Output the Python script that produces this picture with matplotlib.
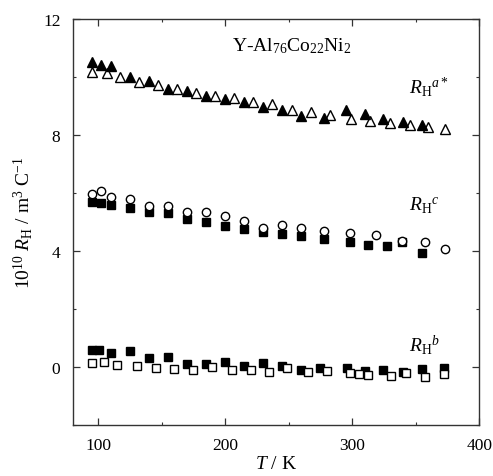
import numpy as np
import matplotlib
matplotlib.use("Agg")
import matplotlib.pyplot as plt
from matplotlib.ticker import MultipleLocator

plt.rcParams['font.family'] = 'Liberation Serif'
plt.rcParams['mathtext.fontset'] = 'custom'
plt.rcParams['mathtext.rm'] = 'Liberation Serif'
plt.rcParams['mathtext.it'] = 'Liberation Serif:italic'

# R_H^a* : filled and open triangles
ta_fill = [94.7, 101.8, 109.9, 124.9, 139.8, 154.5, 169.5, 184.5, 199.7, 214.6,
           229.9, 244.8, 260.0, 277.9, 295.0, 310.0, 324.6, 339.6, 354.6]
ra_fill = [10.51, 10.42, 10.39, 9.99, 9.85, 9.59, 9.53, 9.33, 9.24, 9.13,
           8.96, 8.87, 8.67, 8.58, 8.86, 8.72, 8.55, 8.46, 8.36]
ta_open = [94.7, 106.5, 117.0, 132.0, 146.7, 161.6, 176.9, 191.8, 206.8, 222.0,
           236.9, 252.2, 267.2, 282.4, 299.0, 313.9, 329.6, 345.4, 359.8, 372.9]
ra_open = [10.18, 10.14, 10.01, 9.82, 9.74, 9.59, 9.45, 9.33, 9.26, 9.13,
           9.07, 8.86, 8.80, 8.70, 8.55, 8.49, 8.43, 8.33, 8.29, 8.21]

# R_H^c : open circles and filled squares
tc_circ = [94.7, 101.8, 109.9, 124.9, 139.8, 154.5, 169.5, 184.5, 199.7, 214.6,
           229.9, 244.8, 260.0, 277.6, 298.0, 319.1, 339.4, 357.7, 372.7]
rc_circ = [5.97, 6.06, 5.87, 5.79, 5.56, 5.56, 5.33, 5.33, 5.20, 5.04,
           4.78, 4.91, 4.79, 4.68, 4.61, 4.56, 4.36, 4.32, 4.07]
tc_sq = [94.7, 101.8, 109.9, 124.9, 139.8, 154.5, 169.5, 184.5, 199.7, 214.6,
         229.9, 244.8, 260.0, 277.6, 298.0, 312.5, 327.5, 339.4, 354.6]
rc_sq = [5.68, 5.66, 5.59, 5.47, 5.36, 5.30, 5.10, 4.99, 4.87, 4.76,
         4.64, 4.59, 4.51, 4.41, 4.32, 4.22, 4.18, 4.30, 3.92]

# R_H^b : filled and open squares
tb_fill = [94.7, 100.7, 109.9, 124.9, 139.8, 154.5, 169.5, 184.5, 199.7, 214.6,
           229.9, 244.8, 259.3, 274.5, 295.5, 310.0, 324.3, 340.1, 355.3, 372.4]
rb_fill = [0.60, 0.60, 0.48, 0.56, 0.31, 0.36, 0.10, 0.10, 0.16, 0.02,
           0.14, 0.02, -0.10, -0.04, -0.04, -0.13, -0.10, -0.18, -0.07, -0.05]
tb_open = [94.7, 104.4, 114.9, 130.2, 145.1, 159.8, 174.7, 189.7, 204.9, 219.9,
           234.6, 248.3, 265.3, 279.8, 298.0, 305.2, 312.5, 330.9, 342.2, 357.7, 372.4]
rb_open = [0.14, 0.18, 0.07, 0.02, -0.04, -0.07, -0.09, -0.01, -0.10, -0.09,
           -0.16, -0.04, -0.18, -0.15, -0.21, -0.24, -0.27, -0.30, -0.22, -0.33, -0.24]


def main():
    fig = plt.figure(figsize=(4.93, 4.77), dpi=100)
    ax = fig.add_axes([0.148, 0.107, 0.824, 0.851])

    ms = 6.0
    ax.plot(ta_open, ra_open, '^', ms=ms + 0.5, mfc='white', mec='black', mew=1.0, ls='none')
    ax.plot(ta_fill, ra_fill, '^', ms=ms + 0.5, mfc='black', mec='black', ls='none')
    ax.plot(tc_sq, rc_sq, 's', ms=ms - 0.3, mfc='black', mec='black', ls='none')
    ax.plot(tc_circ, rc_circ, 'o', ms=ms, mfc='white', mec='black', mew=1.0, ls='none')
    ax.plot(tb_fill, rb_fill, 's', ms=ms - 0.3, mfc='black', mec='black', ls='none')
    ax.plot(tb_open, rb_open, 's', ms=ms - 0.8, mfc='white', mec='black', mew=1.0, ls='none')

    ax.set_xlim(80, 400)
    ax.set_ylim(-2, 12)
    ax.xaxis.set_major_locator(MultipleLocator(100))
    ax.xaxis.set_minor_locator(MultipleLocator(50))
    ax.yaxis.set_major_locator(MultipleLocator(4))
    ax.yaxis.set_minor_locator(MultipleLocator(2))
    ax.tick_params(which='both', direction='in', top=True, right=True,
                   labelsize=12.5, color='#333333')
    ax.tick_params(which='major', length=5, width=0.9, pad=9)
    ax.tick_params(which='minor', length=2.5, width=0.8)
    for s in ax.spines.values():
        s.set_color('#333333')
        s.set_linewidth(1.0)

    ax.set_xlabel(r'$T$ / K', fontsize=14, labelpad=1)
    ax.set_ylabel(r'10$^{10}$ $R_{\rm H}$ / m$^3$ C$^{-1}$', fontsize=14, labelpad=6)

    ax.text(252, 11.1, r'Y-Al$_{76}$Co$_{22}$Ni$_2$', fontsize=14, ha='center', va='center')
    ax.text(345, 9.7, r'$R_{\rm H}$$^{a*}$', fontsize=14, ha='left', va='center')
    ax.text(345, 5.6, r'$R_{\rm H}$$^{c}$', fontsize=14, ha='left', va='center')
    ax.text(345, 0.8, r'$R_{\rm H}$$^{b}$', fontsize=14, ha='left', va='center')

    fig.savefig('out.png', dpi=100)


if __name__ == "__main__":
    main()
